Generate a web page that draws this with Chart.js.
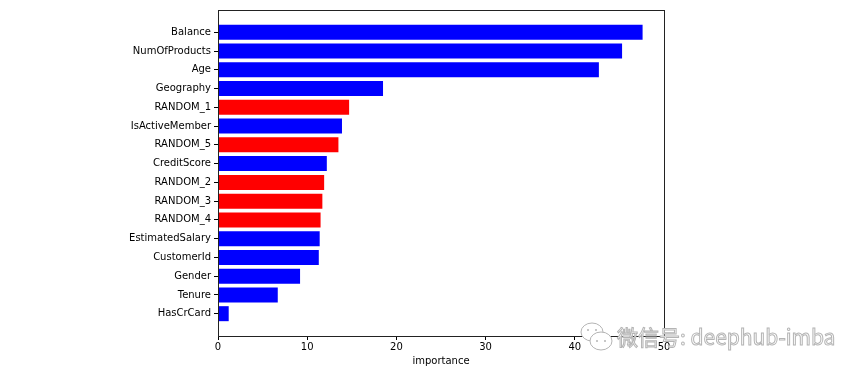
<!doctype html>
<html lang="en">
  <head>
    <meta charset="utf-8">
    <title>Feature importance</title>
    <script src="https://cdn.jsdelivr.net/npm/chart.js"></script>
    <style>
      html, body {
        margin: 0;
        padding: 0;
        background: #fff;
      }
      #wrap {
        width: 864px;
        height: 377px;
      }
    </style>
  </head>
  <body>
    <div id="wrap"><canvas id="importanceChart"></canvas></div>

    <script>
      // Data (top bar first)
      const features = ['Balance', 'NumOfProducts', 'Age', 'Geography', 'RANDOM_1', 'IsActiveMember',
        'RANDOM_5', 'CreditScore', 'RANDOM_2', 'RANDOM_3', 'RANDOM_4', 'EstimatedSalary',
        'CustomerId', 'Gender', 'Tenure', 'HasCrCard'];
      const importance = [47.6, 45.3, 42.7, 18.5, 14.7, 13.9, 13.5, 12.2, 11.9, 11.7, 11.5, 11.4, 11.3, 9.2, 6.7, 1.2];
      const isRandom = [false, false, false, false, true, false, true, false, true, true, true, false, false, false, false, false];
      const xTicks = [0, 10, 20, 30, 40, 50];

      const font = { family: 'DejaVu Sans', size: 10 };

      // Black frame round the plot area, like matplotlib spines
      const framePlugin = {
        id: 'frame',
        afterDraw(chart) {
          const { ctx, chartArea: a } = chart;
          ctx.save();
          ctx.strokeStyle = '#222';
          ctx.lineWidth = 1;
          ctx.strokeRect(Math.round(a.left) + 0.5, Math.round(a.top) + 0.5,
            Math.round(a.right - a.left), Math.round(a.bottom - a.top));
          ctx.restore();
        }
      };

      // The WeChat watermark in the bottom right corner
      const watermarkPlugin = {
        id: 'watermark',
        afterDraw(chart) {
          const ctx = chart.ctx;
          ctx.save();
          ctx.strokeStyle = '#b4b4b4';
          ctx.fillStyle = '#fff';
          ctx.lineWidth = 1;
          // two speech bubbles
          ctx.beginPath();
          ctx.ellipse(592, 332, 11, 9, 0, 0, Math.PI * 2);
          ctx.fill();
          ctx.stroke();
          ctx.beginPath();
          ctx.ellipse(601, 341, 11, 9, 0, 0, Math.PI * 2);
          ctx.fill();
          ctx.stroke();
          ctx.fillStyle = '#b4b4b4';
          [[588, 330], [596, 330], [597, 341], [605, 341]].forEach(([x, y]) => {
            ctx.beginPath();
            ctx.arc(x, y, 1, 0, Math.PI * 2);
            ctx.fill();
          });
          ctx.font = '21px "Noto Sans CJK SC", "Noto Sans"';
          ctx.textBaseline = 'middle';
          ctx.fillStyle = '#fff';
          ctx.fillText('微信号: deephub-imba', 617, 337);
          ctx.strokeText('微信号: deephub-imba', 617, 337);
          ctx.restore();
        }
      };

      const ctx = document.getElementById('importanceChart').getContext('2d');
      new Chart(ctx, {
        type: 'bar',
        data: {
          datasets: [{
            data: importance.map((v, i) => ({ x: v, y: i })),
            backgroundColor: isRandom.map(r => r ? '#ff0000' : '#0000ff'),
            borderWidth: 0,
            barPercentage: 0.8,
            categoryPercentage: 1
          }]
        },
        options: {
          indexAxis: 'y',
          responsive: true,
          maintainAspectRatio: false,
          animation: false,
          layout: { padding: { top: 10, right: 200, bottom: 0, left: 0 } },
          plugins: {
            legend: { display: false },
            tooltip: { enabled: false }
          },
          scales: {
            x: {
              type: 'linear',
              min: 0,
              max: 50,
              afterBuildTicks: s => { s.ticks = xTicks.map(v => ({ value: v })); },
              afterFit: s => { s.height = 41; },
              border: { display: false },
              grid: { drawOnChartArea: false, drawTicks: true, tickLength: 4, color: '#000' },
              ticks: { font, color: '#000', padding: 1, maxRotation: 0 },
              title: { display: true, text: 'importance', font, color: '#000', padding: { top: 0, bottom: 10 } }
            },
            y: {
              type: 'linear',
              reverse: true,
              offset: false,
              min: -1.19,
              max: features.length - 1 + 1.19,
              afterBuildTicks: s => { s.ticks = features.map((_, i) => ({ value: i })); },
              afterFit: s => { s.width = 218; },
              border: { display: false },
              grid: { offset: false, drawOnChartArea: false, drawTicks: true, tickLength: 4, color: '#000' },
              ticks: {
                font,
                color: '#000',
                padding: 3,
                autoSkip: false,
                callback: v => features[v]
              }
            }
          }
        },
        plugins: [framePlugin, watermarkPlugin]
      });
    </script>
  </body>
</html>
